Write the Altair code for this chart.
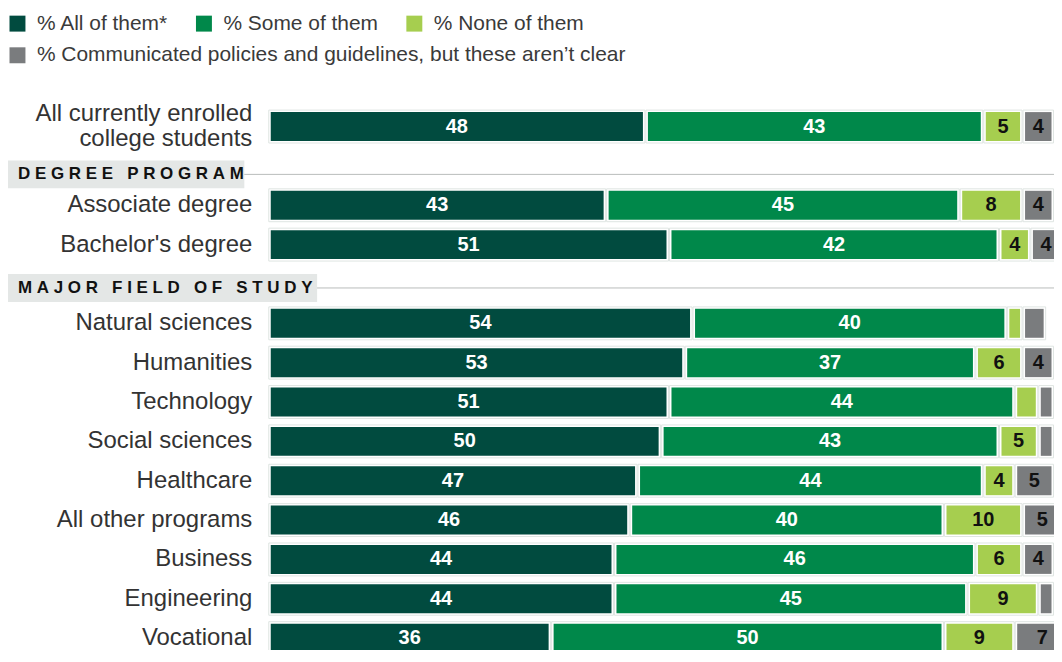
import altair as alt
import pandas as pd

# ---------------- data ----------------
rows = ["All currently enrolled college students", "H1", "Associate degree", "Bachelor's degree", "H2",
        "Natural sciences", "Humanities", "Technology", "Social sciences", "Healthcare",
        "All other programs", "Business", "Engineering", "Vocational"]
bar_rows = [r for r in rows if r not in ("H1", "H2")]
row_labels = ["All currently enrolled\ncollege students", "Associate degree", "Bachelor's degree",
              "Natural sciences", "Humanities", "Technology", "Social sciences", "Healthcare",
              "All other programs", "Business", "Engineering", "Vocational"]

all_of_them = [48, 43, 51, 54, 53, 51, 50, 47, 46, 44, 44, 36]
some_of_them = [43, 45, 42, 40, 37, 44, 43, 44, 40, 46, 45, 50]
none_of_them = [5, 8, 4, 2, 6, 3, 5, 4, 10, 6, 9, 9]
unclear = [4, 4, 4, 3, 4, 2, 2, 5, 5, 4, 2, 7]

series = ["% All of them*", "% Some of them", "% None of them",
          "% Communicated policies and guidelines, but these aren\u2019t clear"]
colors = ["#014B3F", "#00884A", "#A6CE4F", "#7A7C7E"]

headers = ["DEGREE PROGRAM", "MAJOR FIELD OF STUDY"]
header_rows = ["H1", "H2"]

# ---------------- tables ----------------
recs = []
for i, r in enumerate(bar_rows):
    vals = [all_of_them[i], some_of_them[i], none_of_them[i], unclear[i]]
    s = 0
    for j, v in enumerate(vals):
        recs.append(dict(row=r, series=series[j], idx=j, value=v, start=s, end=s + v, mid=s + v / 2))
        s += v
df = pd.DataFrame(recs)
labels_df = pd.DataFrame({"row": bar_rows, "label": row_labels})

FONT = "Liberation Sans"
XSCALE = alt.Scale(domain=[0, 100], nice=False, zero=True)
Y = alt.Y("row:N", scale=alt.Scale(domain=rows, paddingInner=0.9, paddingOuter=0), axis=None)
X = alt.X("start:Q", scale=XSCALE, axis=None)
XMID = alt.X("mid:Q", scale=XSCALE, axis=None)

legend_common = dict(title=None, orient="none", legendX=-262, direction="horizontal",
                     symbolType="square", symbolSize=256, symbolStrokeWidth=0,
                     labelFontSize=21, labelFont=FONT, labelColor="#3a3a3a",
                     columnPadding=25, labelOffset=9, padding=0, labelLimit=800)

outline = alt.Chart(df).mark_bar(size=33, fill="white", stroke="#dfe5e2", strokeWidth=1,
                                 xOffset=0.5, x2Offset=-0.5).encode(x=X, x2="end:Q", y=Y)

bars_main = alt.Chart(df).transform_filter("datum.idx < 3").mark_bar(
    size=29, xOffset=2.5, x2Offset=-2.5).encode(
    x=X, x2="end:Q", y=Y,
    color=alt.Color("series:N", scale=alt.Scale(domain=series[:3], range=colors[:3]),
                    legend=alt.Legend(legendY=-112, **legend_common)))

bars_unclear = alt.Chart(df).transform_filter("datum.idx == 3").mark_bar(
    size=29, xOffset=2.5, x2Offset=-2.5).encode(
    x=X, x2="end:Q", y=Y,
    fill=alt.Fill("series:N", scale=alt.Scale(domain=series[3:], range=colors[3:]),
                  legend=alt.Legend(legendY=-80, **legend_common)))

values_white = alt.Chart(df).transform_filter("datum.value >= 4 && datum.idx < 2").mark_text(
    font=FONT, fontSize=20, fontWeight="bold", baseline="middle", align="center", color="white"
).encode(x=XMID, y=Y, text="value:Q")

values_black = alt.Chart(df).transform_filter("datum.value >= 4 && datum.idx >= 2").mark_text(
    font=FONT, fontSize=20, fontWeight="bold", baseline="middle", align="center", color="#111111"
).encode(x=XMID, y=Y, text="value:Q")

labels_single = alt.Chart(labels_df).transform_filter("indexof(datum.label, '\\n') < 0").mark_text(
    align="right", baseline="middle", fontSize=24, font=FONT, color="#333333"
).encode(x=alt.value(-16), y=Y, text="label:N")

labels_multi = alt.Chart(labels_df).transform_filter("indexof(datum.label, '\\n') >= 0").mark_text(
    align="right", baseline="middle", fontSize=24, font=FONT, color="#333333",
    lineBreak="\n", lineHeight=26, yOffset=-13
).encode(x=alt.value(-16), y=Y, text="label:N")

layers = [outline, bars_main, bars_unclear, values_white, values_black, labels_single, labels_multi]

NB = "\u00a0"
header_box_end = [-24, 49]
header_shift = [8.5, 4]
for name, hr, end, dy in zip(headers, header_rows, header_box_end, header_shift):
    spaced = (NB * 3).join(NB.join(w) for w in name.split())
    hdf = pd.DataFrame({"row": [hr], "text": [spaced]})
    layers.append(alt.Chart(hdf).mark_bar(size=28, color="#e4e7e6", yOffset=dy).encode(
        x=alt.value(-261), x2=alt.value(end), y=Y))
    layers.append(alt.Chart(hdf).mark_rule(color="#b9bcbb", strokeWidth=1, yOffset=dy).encode(
        x=alt.value(end), x2=alt.value(793), y=Y))
    layers.append(alt.Chart(hdf).mark_text(align="left", baseline="middle", fontSize=17,
                                           fontWeight="bold", font=FONT, color="#111111",
                                           yOffset=dy).encode(
        x=alt.value(-251), y=Y, text="text:N"))

chart = alt.layer(*layers).properties(
    width=788, height=517,
    padding={"left": 261, "top": 116, "right": 0, "bottom": 9},
    autosize=alt.AutoSizeParams(type="none"),
    background="white",
).configure_view(stroke=None)

chart.save("out.html", embed_options={"renderer": "svg", "actions": False})
